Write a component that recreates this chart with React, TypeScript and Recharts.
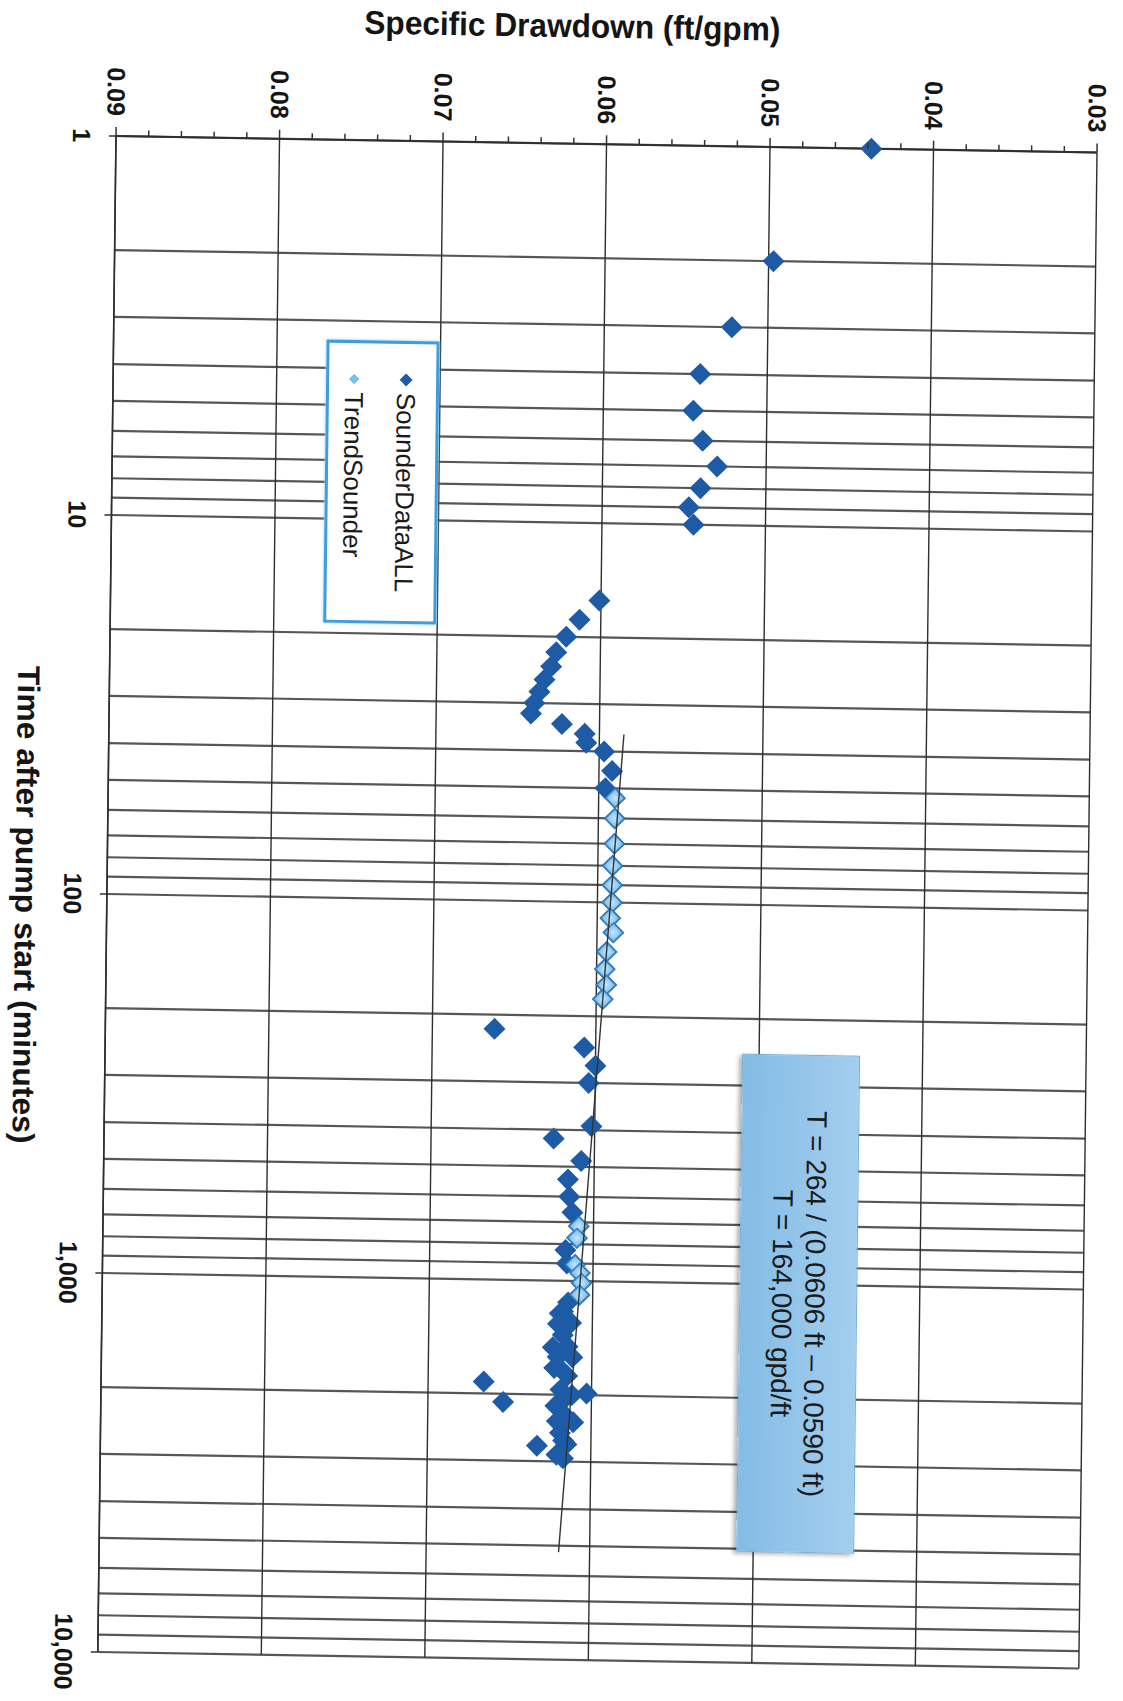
import React from 'react';
import { ScatterChart, Scatter, XAxis, YAxis, CartesianGrid, Legend } from 'recharts';

// Time after pump start (minutes) and specific drawdown (ft/gpm)
const SOUNDER_TIME = [
  1, 2, 3, 4, 5, 6, 7, 8, 9, 10,
  16, 18, 20, 22, 24, 26, 28, 30, 32,
  34, 36, 38, 40, 45, 50,
  53, 60, 70, 80, 90, 100, 110, 120, 135, 150, 165, 180,
  218, 242, 270, 300, 390, 422, 482, 540, 600, 660,
  717, 770, 830, 900, 906, 952, 1012, 1087,
  1140, 1205, 1220, 1290, 1300, 1390, 1490, 1500, 1590, 1590, 1680, 1700, 1780, 1860,
  1940, 1980, 2000, 2100, 2100, 2140, 2290, 2330, 2350, 2360, 2520, 2640, 2700, 2730, 2880, 2940,
];
const SOUNDER_SD = [
  0.0438, 0.0497, 0.0522, 0.0541, 0.0545, 0.0539, 0.0530, 0.0540, 0.0547, 0.0544,
  0.0601, 0.0613, 0.0621, 0.0627, 0.0630, 0.0634, 0.0637, 0.0640, 0.0642,
  0.0623, 0.0609, 0.0608, 0.0597, 0.0592, 0.0596,
  0.0590, 0.0590, 0.0590, 0.0591, 0.0591, 0.0591, 0.0592, 0.0590, 0.0594, 0.0595, 0.0594, 0.0596,
  0.0662, 0.0607, 0.0600, 0.0604, 0.0602, 0.0625, 0.0608, 0.0616, 0.0615, 0.0613,
  0.0609, 0.0610, 0.0617, 0.0616, 0.0611, 0.0608, 0.0607, 0.0608,
  0.0615, 0.0618, 0.0620, 0.0613, 0.0621, 0.0618, 0.0615, 0.0624, 0.0621, 0.0612, 0.0621, 0.0623, 0.0615, 0.0666,
  0.0619, 0.0603, 0.0612, 0.0654, 0.0619, 0.0622, 0.0615, 0.0615, 0.0621, 0.0611, 0.0619, 0.0617, 0.0615, 0.0633, 0.0621, 0.0617,
];

const TREND_TIME = [53, 60, 70, 80, 90, 100, 110, 120, 135, 150, 165, 180, 717, 770, 906, 952, 1012, 1087];
const TREND_SD = [
  0.0590, 0.0590, 0.0590, 0.0591, 0.0591, 0.0591, 0.0592, 0.0590, 0.0594, 0.0595, 0.0594, 0.0596,
  0.0609, 0.0610, 0.0611, 0.0608, 0.0607, 0.0608,
];

// straight-line fit drawn on the semi-log plot
const FIT_TIME = [36, 5200];
const FIT_SD = [0.0585, 0.0619];

const TIME_TICKS = [
  1, 2, 3, 4, 5, 6, 7, 8, 9,
  10, 20, 30, 40, 50, 60, 70, 80, 90,
  100, 200, 300, 400, 500, 600, 700, 800, 900,
  1000, 2000, 3000, 4000, 5000, 6000, 7000, 8000, 9000,
  10000,
];
const TIME_LABELS: Record<number, string> = { 1: '1', 10: '10', 100: '100', 1000: '1,000', 10000: '10,000' };

const SD_TICKS = [
  0.03, 0.032, 0.034, 0.036, 0.038, 0.04, 0.042, 0.044, 0.046, 0.048,
  0.05, 0.052, 0.054, 0.056, 0.058, 0.06, 0.062, 0.064, 0.066, 0.068,
  0.07, 0.072, 0.074, 0.076, 0.078, 0.08, 0.082, 0.084, 0.086, 0.088, 0.09,
];
const SD_MAJOR = [0.03, 0.04, 0.05, 0.06, 0.07, 0.08, 0.09];

const sounderData = SOUNDER_TIME.map((t, i) => ({ t, sd: SOUNDER_SD[i] }));
const trendData = TREND_TIME.map((t, i) => ({ t, sd: TREND_SD[i] }));
const fitData = FIT_TIME.map((t, i) => ({ t, sd: FIT_SD[i] }));

const FONT = "'Liberation Sans', Arial, Helvetica, sans-serif";
const DARK = '#1D5BA6';

const isMajor = (v: number) => SD_MAJOR.some(m => Math.abs(m - v) < 1e-9);

function DarkDiamond(props: any) {
  const { cx, cy } = props;
  const r = 11;
  return <polygon points={`${cx},${cy - r} ${cx + r},${cy} ${cx},${cy + r} ${cx - r},${cy}`} fill={DARK} />;
}

function LightDiamond(props: any) {
  const { cx, cy } = props;
  const r = 9.5;
  return (
    <polygon
      points={`${cx},${cy - r} ${cx + r},${cy} ${cx},${cy + r} ${cx - r},${cy}`}
      fill="url(#lightFill)"
      stroke="#3580C4"
      strokeWidth={1.5}
    />
  );
}

function TimeTick(props: any) {
  const { x, y, payload } = props;
  const label = TIME_LABELS[payload.value];
  if (label === undefined) return <g />;
  return (
    <g>
      <line x1={x} y1={y} x2={x} y2={y + 7} stroke="#333" strokeWidth={1.5} />
      <text x={x} y={y + 34} textAnchor="middle" dominantBaseline="central"
        fontSize={25} fontWeight="bold" fill="#151515" fontFamily={FONT}>
        {label}
      </text>
    </g>
  );
}

function SdTick(props: any) {
  const { x, y, payload } = props;
  const major = isMajor(payload.value);
  return (
    <g>
      <line x1={x} y1={y} x2={x - (major ? 9 : 6)} y2={y} stroke="#333" strokeWidth={1.5} />
      {major && (
        <text x={x - 20} y={y} textAnchor="end" dominantBaseline="central"
          fontSize={25} fontWeight="bold" fill="#151515" fontFamily={FONT}>
          {payload.value.toFixed(2)}
        </text>
      )}
    </g>
  );
}

function YTitle(props: any) {
  const vb = props.viewBox || { x: 0, y: 26 };
  const cx = vb.x + 18;
  const cy = vb.y + 526;
  return (
    <text x={cx} y={cy} transform={`rotate(-90 ${cx} ${cy})`} textAnchor="middle" dominantBaseline="central"
      fontSize={33} fontWeight="bold" fill="#151515" fontFamily={FONT}
      textLength={416} lengthAdjust="spacingAndGlyphs">
      Specific Drawdown (ft/gpm)
    </text>
  );
}

function XTitle(props: any) {
  const vb = props.viewBox || { x: 136, y: 1007 };
  const cx = vb.x + 770;
  const cy = vb.y + 81;
  return (
    <text x={cx} y={cy} textAnchor="middle" dominantBaseline="central"
      fontSize={31} fontWeight="bold" fill="#151515" fontFamily={FONT}
      textLength={478} lengthAdjust="spacingAndGlyphs">
      Time after pump start (minutes)
    </text>
  );
}

function LegendBox() {
  const row = (top: number, marker: React.ReactNode, text: string) => (
    <div style={{ position: 'absolute', left: 0, top: top - 16, height: 32, display: 'flex', alignItems: 'center' }}>
      <svg width={20} height={20} style={{ marginLeft: 26 }}>{marker}</svg>
      <span style={{ marginLeft: 3, fontSize: 26, color: '#1a1a1a', fontFamily: FONT, whiteSpace: 'nowrap' }}>{text}</span>
    </div>
  );
  return (
    <div style={{
      position: 'relative', width: 283, height: 113, boxSizing: 'border-box',
      border: '3px solid #3E9DDC', background: '#fff', boxShadow: '0 0 3px #8cc6ee',
    }}>
      {row(30, <polygon points="10,3.5 16.5,10 10,16.5 3.5,10" fill={DARK} />, 'SounderDataALL')}
      {row(82, <polygon points="10,5.5 14.5,10 10,14.5 5.5,10" fill="#7CC0EE" stroke="#4A9DDA" strokeWidth={0.8} />, 'TrendSounder')}
    </div>
  );
}

export default function App() {
  return (
    <div style={{ position: 'absolute', left: 0, top: 0, width: 1123, height: 1701, overflow: 'hidden', background: '#fff' }}>
      {/* slight shear of the scanned page */}
      <div style={{
        position: 'absolute', left: 0, top: 0, width: 1123, height: 1701,
        transformOrigin: '116px 136px', transform: 'matrix(1, 0.0168, -0.012, 1, 0, 0)',
      }}>
        {/* the chart itself is printed sideways */}
        <div style={{
          position: 'absolute', left: 0, top: 0, width: 1701, height: 1123,
          transformOrigin: '0 0', transform: 'translateX(1123px) rotate(90deg)', fontFamily: FONT,
        }}>
          <ScatterChart width={1701} height={1123} margin={{ top: 26, right: 49, bottom: 0, left: 0 }}>
            <defs>
              <radialGradient id="lightFill" cx="50%" cy="50%" r="60%">
                <stop offset="0%" stopColor="#C4E6FA" />
                <stop offset="100%" stopColor="#5FACE2" />
              </radialGradient>
            </defs>
            <CartesianGrid horizontal={false} stroke="#565656" strokeWidth={2.2} />
            <CartesianGrid vertical={false} horizontalValues={SD_MAJOR} stroke="#2e2e2e" strokeWidth={1.4} />
            <XAxis
              dataKey="t" type="number" scale="log" domain={[1, 10000]} ticks={TIME_TICKS}
              interval={0} height={116} tickSize={0} tickMargin={0} tickLine={false}
              tick={<TimeTick />} axisLine={{ stroke: '#2e2e2e', strokeWidth: 1.6 }}
              label={<XTitle />}
            />
            <YAxis
              dataKey="sd" type="number" domain={[0.03, 0.09]} reversed ticks={SD_TICKS}
              interval={0} width={136} tickSize={0} tickMargin={0} tickLine={false}
              tick={<SdTick />} axisLine={{ stroke: '#2e2e2e', strokeWidth: 1.8 }}
              label={<YTitle />}
            />
            <Scatter name="SounderDataALL" data={sounderData} shape={<DarkDiamond />} fill={DARK} isAnimationActive={false} />
            <Scatter name="TrendSounder" data={trendData} shape={<LightDiamond />} fill="#7CC0EE" isAnimationActive={false} />
            <Scatter
              name="fit" data={fitData} legendType="none" shape={() => <g />}
              line={{ stroke: '#333', strokeWidth: 1.4 }} fill="#333" isAnimationActive={false}
            />
            <Legend
              layout="horizontal" verticalAlign="middle" align="center"
              wrapperStyle={{ left: 336, top: 681, width: 283, height: 113 }}
              content={() => <LegendBox />}
            />
          </ScatterChart>
          <div style={{
            position: 'absolute', left: 1043, top: 252, width: 498, height: 118, boxSizing: 'border-box',
            background: 'linear-gradient(to bottom, #A3CEEE, #84BCE5)', border: '1px solid #76AFDA',
            boxShadow: '2px 3px 4px rgba(0,0,0,0.3)', display: 'flex', flexDirection: 'column',
            justifyContent: 'center', alignItems: 'center', fontFamily: FONT, fontSize: 28, color: '#1a1a1a', lineHeight: '33px',
          }}>
            <div>T = 264 / (0.0606 ft – 0.0590 ft)</div>
            <div>T = 164,000 gpd/ft</div>
          </div>
        </div>
      </div>
    </div>
  );
}
